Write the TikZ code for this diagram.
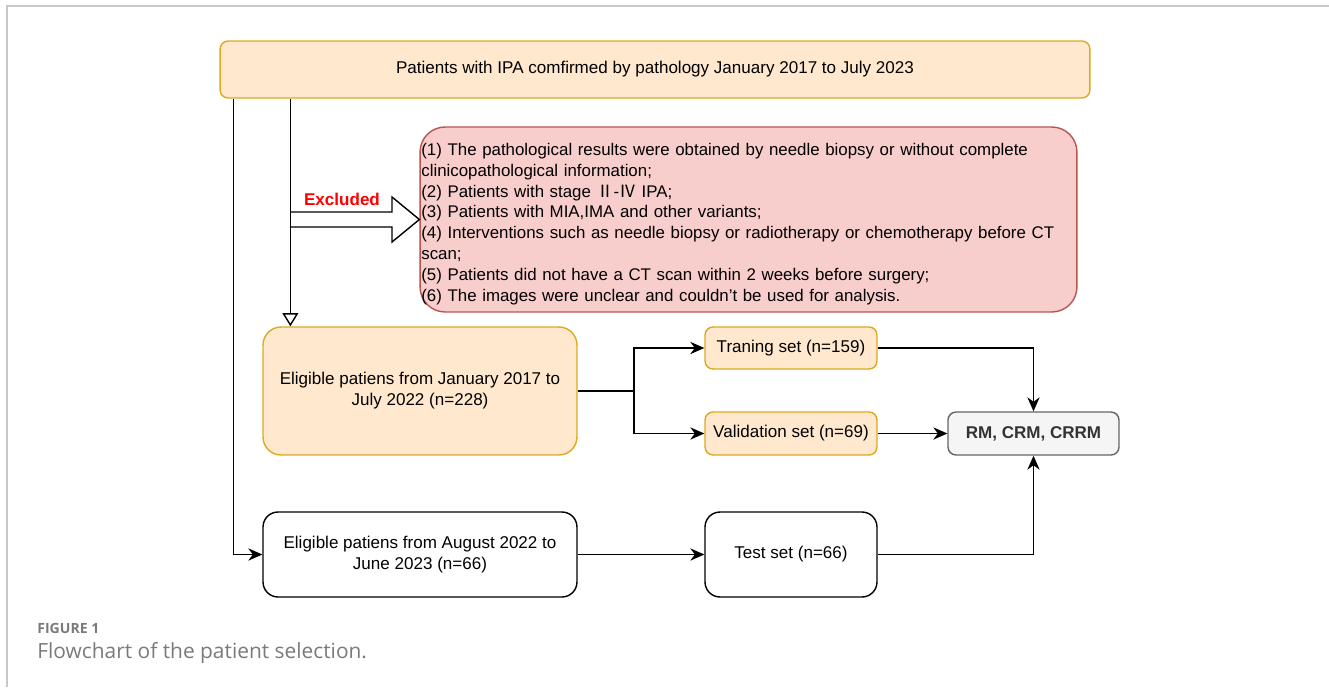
\documentclass[tikz,border=0pt]{standalone}
\usepackage{fontspec}
\setmainfont{Liberation Sans}
\newfontfamily\capfont{Open Sans}
\newfontfamily\cjk{Noto Sans CJK SC}
\usepackage{tikz}
\usetikzlibrary{arrows.meta}
\definecolor{orfill}{HTML}{FFE8CD}
\definecolor{ordraw}{HTML}{DCAA1E}
\definecolor{rdfill}{HTML}{F8CECC}
\definecolor{rddraw}{HTML}{B85450}
\definecolor{gyfill}{HTML}{F5F5F5}
\definecolor{gydraw}{HTML}{666666}
\definecolor{frame}{HTML}{C8C8C8}
\definecolor{captxt}{HTML}{7A7A7A}
\tikzstyle{every node}=[font=\fontsize{9.7pt}{12pt}\selectfont]
\tikzstyle{orbox}=[draw=ordraw,fill=orfill,line width=0.8pt,rounded corners=0.16cm,align=center]
\tikzstyle{wbox}=[draw=black,fill=white,line width=0.8pt,rounded corners=0.3cm,align=center]
\tikzstyle{arr}=[line width=0.8pt,-{Stealth[length=8pt,width=7pt]}]

\begin{document}
\begin{tikzpicture}[x=0.02cm,y=-0.02cm]
\useasboundingbox (0,0) rectangle (1329,687);

% frame of the figure
\draw[frame,line width=0.8pt] (7,687) -- (7,6) -- (1329,6);

\node[orbox, minimum width=17.4cm, minimum height=1.14cm] (top) at (655,69.5) {Patients with IPA comfirmed by pathology January 2017 to July 2023};

\node[draw=rddraw, fill=rdfill, line width=0.8pt, rounded corners=0.5cm, minimum width=13.14cm, minimum height=3.7cm] (excl) at (748.5,219.5) {};
\node[text width=13.8cm, align=left, inner sep=0pt, anchor=west, font=\fontsize{9.6pt}{11.9pt}\selectfont] (excltxt) at (421,224) {(1) The pathological results were obtained by needle biopsy or without complete\\
clinicopathological information;\\
(2) Patients with stage {\cjk Ⅱ}-{\cjk Ⅳ} IPA;\\
(3) Patients with MIA,IMA and other variants;\\
(4) Interventions such as needle biopsy or radiotherapy or chemotherapy before CT\\
scan;\\
(5) Patients did not have a CT scan within 2 weeks before surgery;\\
(6) The images were unclear and couldn't be used for analysis.};

\node[orbox, rounded corners=0.36cm, minimum width=6.28cm, minimum height=2.56cm] (elig1) at (420,391) {Eligible patiens from January 2017 to\\July 2022 (n=228)};
\node[orbox, minimum width=3.44cm, minimum height=0.84cm] (train) at (791,348) {Traning set (n=159)};
\node[orbox, minimum width=3.44cm, minimum height=0.86cm] (valid) at (791,433.5) {Validation set (n=69)};
\node[draw=gydraw, fill=gyfill, line width=0.8pt, rounded corners=0.16cm, minimum width=3.42cm, minimum height=0.86cm, font=\fontsize{9.7pt}{12pt}\selectfont\bfseries, text=black!80] (rm) at (1033.5,433.5) {RM, CRM, CRRM};
\node[wbox, minimum width=6.28cm, minimum height=1.7cm] (elig2) at (420,554.5) {Eligible patiens from August 2022 to\\June 2023 (n=66)};
\node[wbox, minimum width=3.44cm, minimum height=1.7cm] (test) at (791,554.5) {Test set (n=66)};

% exclusion arrow
\draw[line width=0.8pt, fill=white] (291,212) -- (392,212) -- (392,197) -- (excl.west) -- (392,242) -- (392,227) -- (291,227);
\node[text=red, font=\fontsize{9.7pt}{12pt}\selectfont\bfseries] (exlab) at (342,199) {Excluded};

% connectors
\draw[arr] ([xshift=0.28cm]top.south west) |- (elig2.west);
\draw[line width=0.8pt, -{Triangle[open,length=7.5pt,width=9pt]}] ([xshift=1.42cm]top.south west) -- ([xshift=1.42cm]top.south west |- elig1.north);
\coordinate (br) at (634,391);
\draw[line width=0.8pt] (elig1.east) -- (br);
\draw[arr] (br) |- (train.west);
\draw[arr] (br) |- (valid.west);
\draw[arr] (train.east) -| (rm.north);
\draw[arr] (valid.east) -- (rm.west);
\draw[arr] (test.east) -| (rm.south);
\draw[arr] (elig2.east) -- (test.west);

% caption
\node[anchor=base west, inner sep=0pt, text=captxt, font=\capfont\fontsize{8pt}{10pt}\selectfont\bfseries] (fig) at (37,633) {FIGURE 1};
\node[anchor=base west, inner sep=0pt, text=captxt, font=\capfont\fontsize{11.9pt}{14pt}\selectfont] (cap) at (37,658) {Flowchart of the patient selection.};
\end{tikzpicture}
\end{document}
